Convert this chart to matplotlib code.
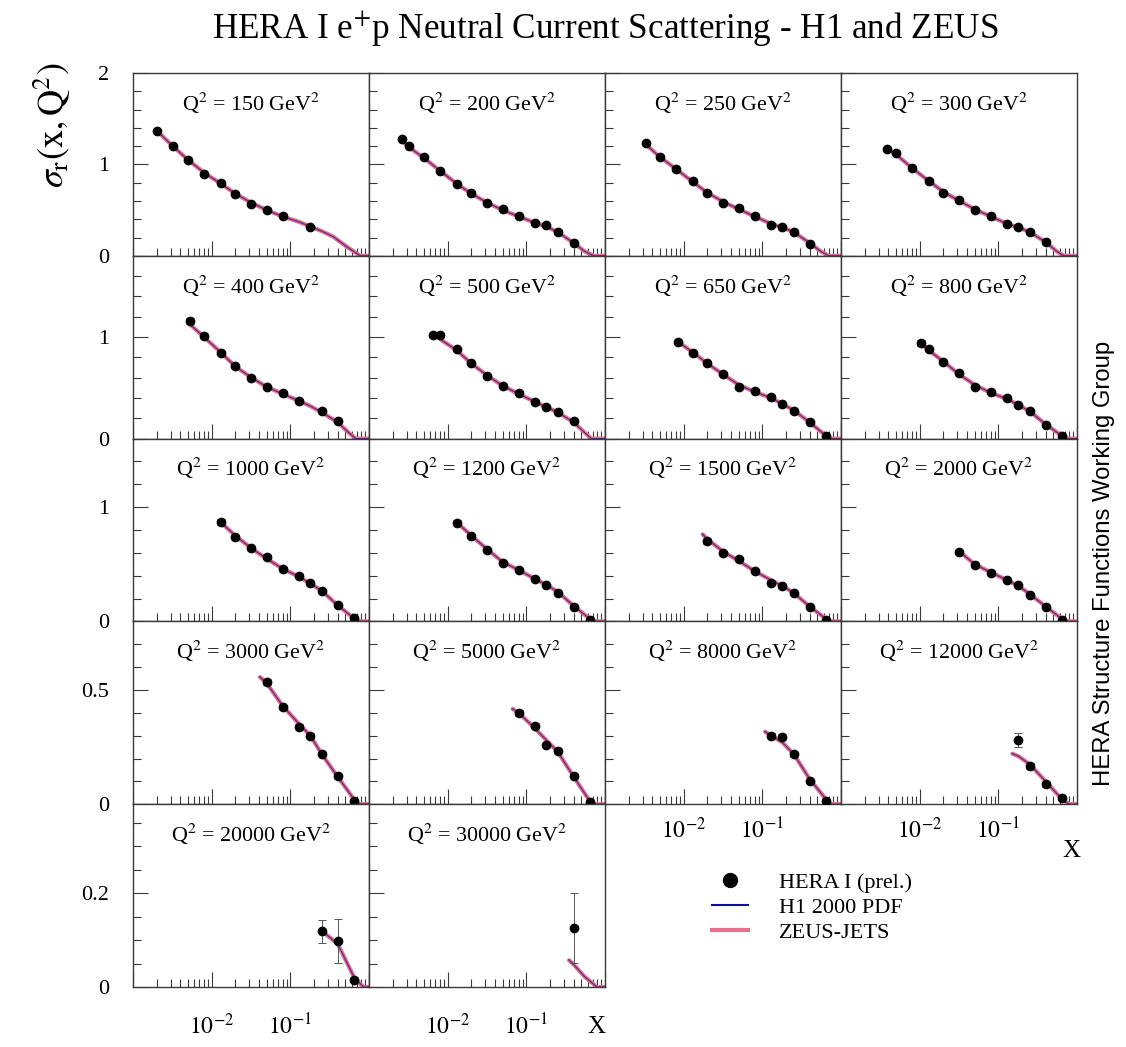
import numpy as np
import matplotlib
matplotlib.use("Agg")
import matplotlib.pyplot as plt
from matplotlib.ticker import LogLocator, MultipleLocator, FixedLocator, FuncFormatter, NullFormatter
from matplotlib.lines import Line2D

plt.rcParams['font.family'] = ['Liberation Serif', 'DejaVu Serif']
plt.rcParams['mathtext.fontset'] = 'stix'

# Q^2 bins, one panel each (GeV^2)
q2 = [150, 200, 250, 300, 400, 500, 650, 800, 1000, 1200, 1500, 2000,
      3000, 5000, 8000, 12000, 20000, 30000]

# HERA I combined points
x_data = [
    [0.002, 0.0032, 0.005, 0.008, 0.013, 0.02, 0.032, 0.05, 0.08, 0.18],
    [0.0026, 0.0032, 0.005, 0.008, 0.013, 0.02, 0.032, 0.05, 0.08, 0.13, 0.18, 0.25, 0.40],
    [0.0033, 0.005, 0.008, 0.013, 0.02, 0.032, 0.05, 0.08, 0.13, 0.18, 0.25, 0.40],
    [0.0039, 0.005, 0.008, 0.013, 0.02, 0.032, 0.05, 0.08, 0.13, 0.18, 0.25, 0.40],
    [0.0053, 0.008, 0.013, 0.02, 0.032, 0.05, 0.08, 0.13, 0.25, 0.40],
    [0.0066, 0.008, 0.013, 0.02, 0.032, 0.05, 0.08, 0.13, 0.18, 0.25, 0.40],
    [0.0085, 0.013, 0.02, 0.032, 0.05, 0.08, 0.13, 0.18, 0.25, 0.40, 0.65],
    [0.0105, 0.013, 0.02, 0.032, 0.05, 0.08, 0.13, 0.18, 0.25, 0.40, 0.65],
    [0.013, 0.02, 0.032, 0.05, 0.08, 0.13, 0.18, 0.25, 0.40, 0.65],
    [0.013, 0.02, 0.032, 0.05, 0.08, 0.13, 0.18, 0.25, 0.40, 0.65],
    [0.02, 0.032, 0.05, 0.08, 0.13, 0.18, 0.25, 0.40, 0.65],
    [0.032, 0.05, 0.08, 0.13, 0.18, 0.25, 0.40, 0.65],
    [0.05, 0.08, 0.13, 0.18, 0.25, 0.40, 0.65],
    [0.08, 0.13, 0.18, 0.25, 0.40, 0.65],
    [0.13, 0.18, 0.25, 0.40, 0.65],
    [0.18, 0.25, 0.40, 0.65],
    [0.25, 0.40, 0.65],
    [0.40],
]
y_data = [
    [1.37, 1.20, 1.05, 0.90, 0.80, 0.68, 0.57, 0.50, 0.43, 0.32],
    [1.275, 1.20, 1.08, 0.93, 0.79, 0.685, 0.575, 0.51, 0.43, 0.357, 0.34, 0.265, 0.14],
    [1.23, 1.085, 0.95, 0.82, 0.685, 0.58, 0.52, 0.43, 0.34, 0.32, 0.255, 0.13],
    [1.17, 1.13, 0.965, 0.82, 0.69, 0.61, 0.50, 0.43, 0.35, 0.31, 0.26, 0.15],
    [1.16, 1.01, 0.84, 0.71, 0.60, 0.51, 0.45, 0.37, 0.27, 0.17],
    [1.02, 1.02, 0.88, 0.74, 0.62, 0.52, 0.45, 0.36, 0.31, 0.26, 0.17],
    [0.955, 0.845, 0.74, 0.64, 0.51, 0.47, 0.41, 0.34, 0.275, 0.16, 0.025],
    [0.94, 0.88, 0.756, 0.646, 0.51, 0.457, 0.397, 0.334, 0.267, 0.135, 0.025],
    [0.87, 0.74, 0.644, 0.56, 0.455, 0.40, 0.34, 0.27, 0.14, 0.03],
    [0.865, 0.75, 0.625, 0.51, 0.45, 0.368, 0.32, 0.25, 0.13, 0.014],
    [0.70, 0.60, 0.545, 0.44, 0.34, 0.31, 0.25, 0.13, 0.014],
    [0.61, 0.49, 0.42, 0.36, 0.315, 0.235, 0.13, 0.01],
    [0.535, 0.425, 0.34, 0.30, 0.219, 0.122, 0.016],
    [0.40, 0.344, 0.26, 0.233, 0.122, 0.008],
    [0.30, 0.295, 0.218, 0.10, 0.016],
    [0.28, 0.167, 0.087, 0.025],
    [0.119, 0.098, 0.016],
    [0.126],
]
y_err = [
    [0.02, 0.015, 0.015, 0.01, 0.01, 0.01, 0.01, 0.01, 0.01, 0.01],
    [0.02, 0.015, 0.015, 0.01, 0.01, 0.01, 0.01, 0.01, 0.01, 0.01, 0.01, 0.01, 0.01],
    [0.02, 0.015, 0.01, 0.01, 0.01, 0.01, 0.01, 0.01, 0.01, 0.01, 0.01, 0.01],
    [0.02, 0.015, 0.01, 0.01, 0.01, 0.01, 0.01, 0.01, 0.01, 0.01, 0.01, 0.01],
    [0.03, 0.015, 0.01, 0.01, 0.01, 0.01, 0.01, 0.01, 0.01, 0.01],
    [0.02, 0.02, 0.015, 0.01, 0.01, 0.01, 0.01, 0.01, 0.01, 0.01, 0.01],
    [0.02, 0.015, 0.01, 0.01, 0.01, 0.01, 0.01, 0.01, 0.01, 0.01, 0.005],
    [0.03, 0.015, 0.01, 0.01, 0.01, 0.01, 0.01, 0.01, 0.01, 0.01, 0.005],
    [0.03, 0.015, 0.01, 0.01, 0.01, 0.01, 0.01, 0.01, 0.01, 0.005],
    [0.02, 0.015, 0.01, 0.01, 0.01, 0.01, 0.01, 0.01, 0.01, 0.005],
    [0.02, 0.015, 0.01, 0.01, 0.01, 0.01, 0.01, 0.01, 0.005],
    [0.015, 0.01, 0.01, 0.01, 0.01, 0.01, 0.01, 0.005],
    [0.015, 0.01, 0.01, 0.01, 0.01, 0.01, 0.005],
    [0.012, 0.01, 0.01, 0.01, 0.008, 0.004],
    [0.012, 0.012, 0.01, 0.008, 0.004],
    [0.03, 0.012, 0.01, 0.005],
    [0.025, 0.047, 0.006],
    [0.075],
]

# NLO fit curves (H1 2000 PDF and ZEUS-JETS lie on top of each other)
fit_x = [
    [0.0019, 0.002, 0.0032, 0.005, 0.008, 0.013, 0.02, 0.032, 0.05, 0.08, 0.13, 0.18, 0.25, 0.35, 0.52, 0.77, 1.0],
    [0.0024, 0.0032, 0.005, 0.008, 0.013, 0.02, 0.032, 0.05, 0.08, 0.13, 0.18, 0.25, 0.40, 0.55, 0.72, 1.0],
    [0.0031, 0.005, 0.008, 0.013, 0.02, 0.032, 0.05, 0.08, 0.13, 0.18, 0.25, 0.40, 0.55, 0.70, 1.0],
    [0.0037, 0.005, 0.008, 0.013, 0.02, 0.032, 0.05, 0.08, 0.13, 0.18, 0.25, 0.40, 0.55, 0.68, 1.0],
    [0.0052, 0.008, 0.013, 0.02, 0.032, 0.05, 0.08, 0.13, 0.18, 0.25, 0.40, 0.55, 0.68, 1.0],
    [0.0064, 0.008, 0.013, 0.02, 0.032, 0.05, 0.08, 0.13, 0.18, 0.25, 0.40, 0.55, 0.67, 1.0],
    [0.0083, 0.013, 0.02, 0.032, 0.05, 0.08, 0.13, 0.18, 0.25, 0.40, 0.65, 0.75, 1.0],
    [0.01, 0.013, 0.02, 0.032, 0.05, 0.08, 0.13, 0.18, 0.25, 0.40, 0.65, 0.75, 1.0],
    [0.012, 0.02, 0.032, 0.05, 0.08, 0.13, 0.18, 0.25, 0.40, 0.65, 0.75, 1.0],
    [0.0125, 0.02, 0.032, 0.05, 0.08, 0.13, 0.18, 0.25, 0.40, 0.65, 0.75, 1.0],
    [0.017, 0.02, 0.032, 0.05, 0.08, 0.13, 0.18, 0.25, 0.40, 0.65, 0.75, 1.0],
    [0.031, 0.05, 0.08, 0.13, 0.18, 0.25, 0.40, 0.65, 0.75, 1.0],
    [0.04, 0.05, 0.08, 0.13, 0.18, 0.25, 0.40, 0.65, 0.75, 1.0],
    [0.065, 0.08, 0.13, 0.18, 0.25, 0.40, 0.65, 0.72, 1.0],
    [0.105, 0.13, 0.18, 0.25, 0.40, 0.65, 0.75, 1.0],
    [0.146, 0.18, 0.25, 0.40, 0.65, 0.8, 1.0],
    [0.238, 0.25, 0.40, 0.65, 0.85, 1.0],
    [0.34, 0.40, 0.55, 0.79, 1.0],
]
fit_y = [
    [1.39, 1.37, 1.20, 1.05, 0.91, 0.79, 0.68, 0.58, 0.50, 0.43, 0.37, 0.32, 0.27, 0.21, 0.10, 0.0, 0.0],
    [1.29, 1.19, 1.07, 0.93, 0.79, 0.68, 0.58, 0.50, 0.43, 0.36, 0.32, 0.26, 0.14, 0.05, 0.0, 0.0],
    [1.24, 1.08, 0.95, 0.81, 0.69, 0.59, 0.51, 0.43, 0.35, 0.31, 0.26, 0.14, 0.05, 0.0, 0.0],
    [1.18, 1.11, 0.96, 0.82, 0.70, 0.60, 0.51, 0.43, 0.35, 0.31, 0.26, 0.15, 0.05, 0.0, 0.0],
    [1.13, 1.00, 0.85, 0.71, 0.60, 0.51, 0.44, 0.37, 0.32, 0.26, 0.16, 0.06, 0.0, 0.0],
    [1.04, 0.98, 0.87, 0.74, 0.62, 0.52, 0.44, 0.36, 0.31, 0.26, 0.16, 0.06, 0.0, 0.0],
    [0.96, 0.85, 0.74, 0.63, 0.53, 0.46, 0.40, 0.34, 0.28, 0.16, 0.025, 0.0, 0.0],
    [0.95, 0.87, 0.76, 0.63, 0.53, 0.45, 0.39, 0.33, 0.27, 0.14, 0.025, 0.0, 0.0],
    [0.89, 0.75, 0.64, 0.55, 0.46, 0.39, 0.33, 0.27, 0.14, 0.025, 0.0, 0.0],
    [0.88, 0.75, 0.63, 0.52, 0.45, 0.37, 0.32, 0.26, 0.135, 0.02, 0.0, 0.0],
    [0.77, 0.72, 0.61, 0.53, 0.44, 0.36, 0.31, 0.25, 0.13, 0.02, 0.0, 0.0],
    [0.62, 0.50, 0.43, 0.36, 0.31, 0.24, 0.13, 0.02, 0.0, 0.0],
    [0.56, 0.53, 0.43, 0.35, 0.30, 0.22, 0.12, 0.02, 0.0, 0.0],
    [0.42, 0.40, 0.33, 0.28, 0.23, 0.12, 0.01, 0.0, 0.0],
    [0.32, 0.30, 0.27, 0.22, 0.11, 0.02, 0.0, 0.0],
    [0.223, 0.21, 0.175, 0.10, 0.02, 0.0, 0.0],
    [0.125, 0.12, 0.092, 0.02, 0.0, 0.0],
    [0.059, 0.048, 0.022, 0.0, 0.0],
]

# per-row y axis
y_top = [2.0, 1.8, 1.6, 0.8, 0.39]
y_major = [[0, 1, 2], [0, 1], [0, 1], [0, 0.5], [0, 0.2]]
y_minor = [0.2, 0.2, 0.2, 0.1, 0.05]

x_labelled = {14: 9.5, 15: 9.5, 16: 19, 17: 19}   # panel -> label pad

pink = '#e8708e'
navy = '#2a1a80'
axcol = '#3a3a3a'

W, H = 1126, 1047
fig = plt.figure(figsize=(W / 100, H / 100), dpi=100)
left0, top0, pw, ph = 133, 73, 236, 182.8


def xfmt(v, pos):
    if np.isclose(v, 0.01):
        return r'$10^{-2}$'
    if np.isclose(v, 0.1):
        return r'$10^{-1}$'
    return ''


for i, q in enumerate(q2):
    r, c = divmod(i, 4)
    ax = fig.add_axes([(left0 + c * pw) / W, 1 - (top0 + (r + 1) * ph) / H, pw / W, ph / H])
    ax.set_xscale('log')
    ax.set_xlim(1e-3, 1)
    ax.set_ylim(0, y_top[r])

    ax.plot(fit_x[i], fit_y[i], color=pink, lw=3.0, solid_capstyle='butt', zorder=2)
    ax.plot(fit_x[i], fit_y[i], color=navy, lw=0.9, alpha=0.75, zorder=3)
    ax.errorbar(x_data[i], y_data[i], yerr=y_err[i], fmt='o', color='black', ms=6,
                elinewidth=0.7, capsize=3, capthick=0.7, ecolor='#555555', zorder=4)

    ax.text(0.5, 0.835, r'Q$^2$ = %d GeV$^2$' % q, transform=ax.transAxes,
            ha='center', va='center', fontsize=15.8)

    for s in ax.spines.values():
        s.set_color(axcol)
        s.set_linewidth(1.0)
    ax.tick_params(which='both', direction='in', top=False, right=False,
                   color=axcol, labelcolor='black')
    ax.tick_params(which='major', length=11, width=0.8)
    ax.tick_params(which='minor', length=6, width=0.8)

    ax.yaxis.set_major_locator(FixedLocator(y_major[r]))
    ax.yaxis.set_minor_locator(MultipleLocator(y_minor[r]))
    ax.yaxis.set_major_formatter(FuncFormatter(lambda v, p: '%g' % v))
    ax.tick_params(axis='y', labelleft=(c == 0), labelsize=16, pad=17)

    ax.xaxis.set_major_locator(LogLocator(base=10, numticks=10))
    ax.xaxis.set_minor_locator(LogLocator(base=10, subs=range(2, 10), numticks=10))
    ax.xaxis.set_minor_formatter(NullFormatter())
    ax.xaxis.set_major_formatter(FuncFormatter(xfmt))
    if i in x_labelled:
        ax.tick_params(axis='x', labelbottom=True, labelsize=17, pad=x_labelled[i])
    else:
        ax.tick_params(axis='x', labelbottom=False)

fig.text(605 / W, 1 - 29 / H, r'HERA I e$^{+}$p Neutral Current Scattering - H1 and ZEUS',
         ha='center', va='center', fontsize=25.3)
fig.text(52 / W, 1 - 125 / H, r'$\sigma_{\mathrm{r}}(\mathrm{x,Q}^2)$', rotation=90,
         ha='center', va='center', fontsize=26)
fig.text(1104 / W, 1 - 563 / H, 'HERA Structure Functions Working Group', rotation=90,
         ha='center', va='center', fontsize=17.2, family=['Liberation Sans', 'DejaVu Sans'])
fig.text(1071 / W, 1 - 851 / H, 'X', ha='center', va='center', fontsize=18)
fig.text(596 / W, 1 - 1027 / H, 'X', ha='center', va='center', fontsize=18)

handles = [Line2D([], [], marker='o', color='black', ls='none', ms=10),
           Line2D([], [], color='#1010a0', lw=1.5),
           Line2D([], [], color=pink, lw=3)]
labels = ['HERA I (prel.)', 'H1 2000 PDF', 'ZEUS-JETS']
fig.legend(handles, labels, loc='upper left', bbox_to_anchor=(712 / W, 1 - 872 / H),
           frameon=False, fontsize=16, handlelength=1.6, handletextpad=1.4,
           labelspacing=0.2, borderpad=0, borderaxespad=0)

fig.savefig('out.png', dpi=100)
